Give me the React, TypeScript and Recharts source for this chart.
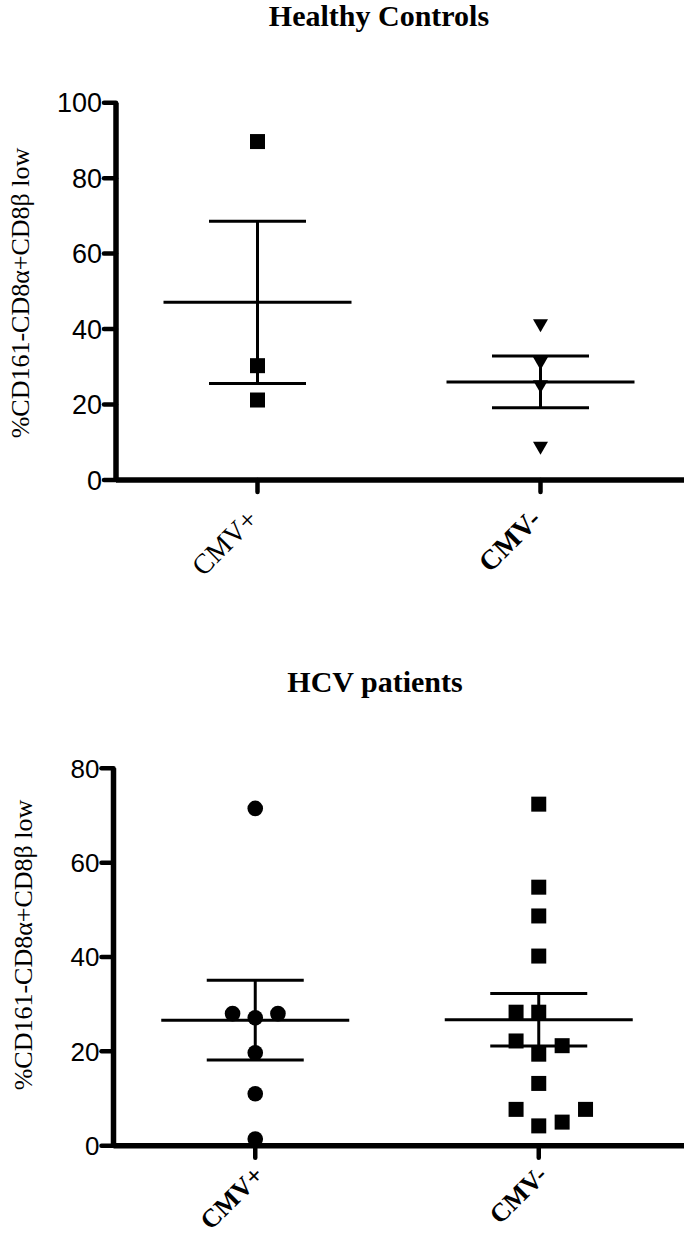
import { ScatterChart, Scatter, XAxis, YAxis, ErrorBar } from 'recharts';

// group positions on the numeric x axis
const categories = ['CMV+', 'CMV-'];
const categoryX = [1, 3];

// Healthy controls
const hcPosValues = [89.7, 30.3, 21.2];
const hcNegValues = [40.9, 30.9, 24.7, 8.4];
const hcMeans = [47.1, 26.0];
const hcSem = [21.5, 6.85];
const hcTicks = [0, 20, 40, 60, 80, 100];

// HCV patients
const hcvPosValues = [71.5, 28.0, 27.1, 28.0, 19.7, 11.0, 1.4];
const hcvPosJitter = [0, -0.16, 0, 0.16, 0, 0, 0];
const hcvNegValues = [72.4, 54.8, 48.7, 40.2, 28.3, 28.3, 22.2, 21.2, 19.4, 13.2, 7.7, 7.7, 4.2, 5.0];
const hcvNegJitter = [0, 0, 0, 0, -0.16, 0, -0.16, 0.165, 0, 0, -0.16, 0.33, 0, 0.165];
const hcvMeans = [26.6, 26.7];
const hcvSem = [8.45, 5.55];
const hcvTicks = [0, 20, 40, 60, 80];

const yLabel = '%CD161-CD8α+CD8β low';

const toPoints = (values: number[], group: number, jitter?: number[]) =>
  values.map((v, i) => ({ x: categoryX[group] + (jitter ? jitter[i] : 0), y: v }));

const toMeans = (means: number[], sem: number[]) =>
  means.map((m, i) => ({ x: categoryX[i], y: m, sem: sem[i] }));

const Square = (props: any) => {
  const { cx, cy } = props;
  return <rect x={cx - 7.5} y={cy - 7.5} width={15} height={15} fill="#000" />;
};

const Dot = (props: any) => {
  const { cx, cy } = props;
  return <circle cx={cx} cy={cy} r={7.8} fill="#000" />;
};

const TriangleDown = (props: any) => {
  const { cx, cy } = props;
  return <path d={`M${cx - 7.5},${cy - 6.5}L${cx + 7.5},${cy - 6.5}L${cx},${cy + 6.5}Z`} fill="#000" />;
};

const MeanLine = (props: any) => {
  const { cx, cy } = props;
  return <line x1={cx - 94} x2={cx + 94} y1={cy} y2={cy} stroke="#000" strokeWidth={3} />;
};

const makeTick = (bold: boolean[], dx: number, dy: number, size: number) => (props: any) => {
  const { x, y, payload } = props;
  const idx = categoryX.indexOf(payload.value);
  const ex = x + dx;
  const ey = y + dy;
  return (
    <text
      x={ex}
      y={ey}
      transform={`rotate(-45, ${ex}, ${ey})`}
      textAnchor="end"
      fontFamily="'Liberation Serif', 'Times New Roman', serif"
      fontSize={size}
      fontWeight={bold[idx] ? 'bold' : 'normal'}
      fill="#000"
    >
      {categories[idx]}
    </text>
  );
};

const axisProps = {
  axisLine: { stroke: '#000', strokeWidth: 5.5 },
  tickLine: { stroke: '#000', strokeWidth: 4.5, strokeLinecap: 'round' as const },
};

const serif = "'Liberation Serif', 'Times New Roman', serif";
const sans = "'Liberation Sans', Arial, sans-serif";

export default function App() {
  return (
    <div style={{ position: 'absolute', left: 0, top: 0, width: 686, height: 1238, background: '#fff', overflow: 'hidden' }}>
      <div style={{ position: 'absolute', left: 0, top: 0 }}>
        <ScatterChart width={686} height={620} margin={{ top: 102.7, right: 2, bottom: 0, left: 0 }}>
          <XAxis
            type="number"
            dataKey="x"
            domain={[0, 4]}
            ticks={categoryX}
            height={140}
            tickSize={12}
            padding={{ left: 0, right: 2 }}
            tick={makeTick([false, true], 2, 27, 28)}
            {...axisProps}
          />
          <YAxis
            type="number"
            dataKey="y"
            domain={[0, 100]}
            ticks={hcTicks}
            width={116}
            tickSize={12}
            tickMargin={2}
            tick={{ fill: '#000', fontSize: 27, fontFamily: sans }}
            {...axisProps}
          />
          <Scatter data={toMeans(hcMeans, hcSem)} shape={MeanLine} isAnimationActive={false}>
            <ErrorBar dataKey="sem" direction="y" width={48.5} strokeWidth={3} stroke="#000" isAnimationActive={false} />
          </Scatter>
          <Scatter data={toPoints(hcPosValues, 0)} shape={Square} isAnimationActive={false} />
          <Scatter data={toPoints(hcNegValues, 1)} shape={TriangleDown} isAnimationActive={false} />
        </ScatterChart>
      </div>
      <div style={{ position: 'absolute', left: 0, top: 640 }}>
        <ScatterChart width={686} height={598} margin={{ top: 128.3, right: 2, bottom: 0, left: 0 }}>
          <XAxis
            type="number"
            dataKey="x"
            domain={[0, 4]}
            ticks={categoryX}
            height={92.3}
            tickSize={12}
            padding={{ left: 0, right: 3.5 }}
            tick={makeTick([true, true], 10, 17, 26)}
            {...axisProps}
          />
          <YAxis
            type="number"
            dataKey="y"
            domain={[0, 80]}
            ticks={hcvTicks}
            width={113.5}
            tickSize={12}
            tickMargin={2}
            tick={{ fill: '#000', fontSize: 26, fontFamily: sans }}
            {...axisProps}
          />
          <Scatter data={toMeans(hcvMeans, hcvSem)} shape={MeanLine} isAnimationActive={false}>
            <ErrorBar dataKey="sem" direction="y" width={48.5} strokeWidth={3} stroke="#000" isAnimationActive={false} />
          </Scatter>
          <Scatter data={toPoints(hcvPosValues, 0, hcvPosJitter)} shape={Dot} isAnimationActive={false} />
          <Scatter data={toPoints(hcvNegValues, 1, hcvNegJitter)} shape={Square} isAnimationActive={false} />
        </ScatterChart>
      </div>
      <svg width={686} height={1238} style={{ position: 'absolute', left: 0, top: 0, pointerEvents: 'none' }}>
        <text x={379} y={26} textAnchor="middle" fontFamily={serif} fontWeight="bold" fontSize={30} fill="#000">
          Healthy Controls
        </text>
        <text transform="translate(29, 293) rotate(-90)" textAnchor="middle" fontFamily={serif} fontSize={26} fill="#000">
          {yLabel}
        </text>
        <text x={375} y={692} textAnchor="middle" fontFamily={serif} fontWeight="bold" fontSize={30} fill="#000">
          HCV patients
        </text>
        <text transform="translate(32, 945) rotate(-90)" textAnchor="middle" fontFamily={serif} fontSize={26} fill="#000">
          {yLabel}
        </text>
      </svg>
    </div>
  );
}
